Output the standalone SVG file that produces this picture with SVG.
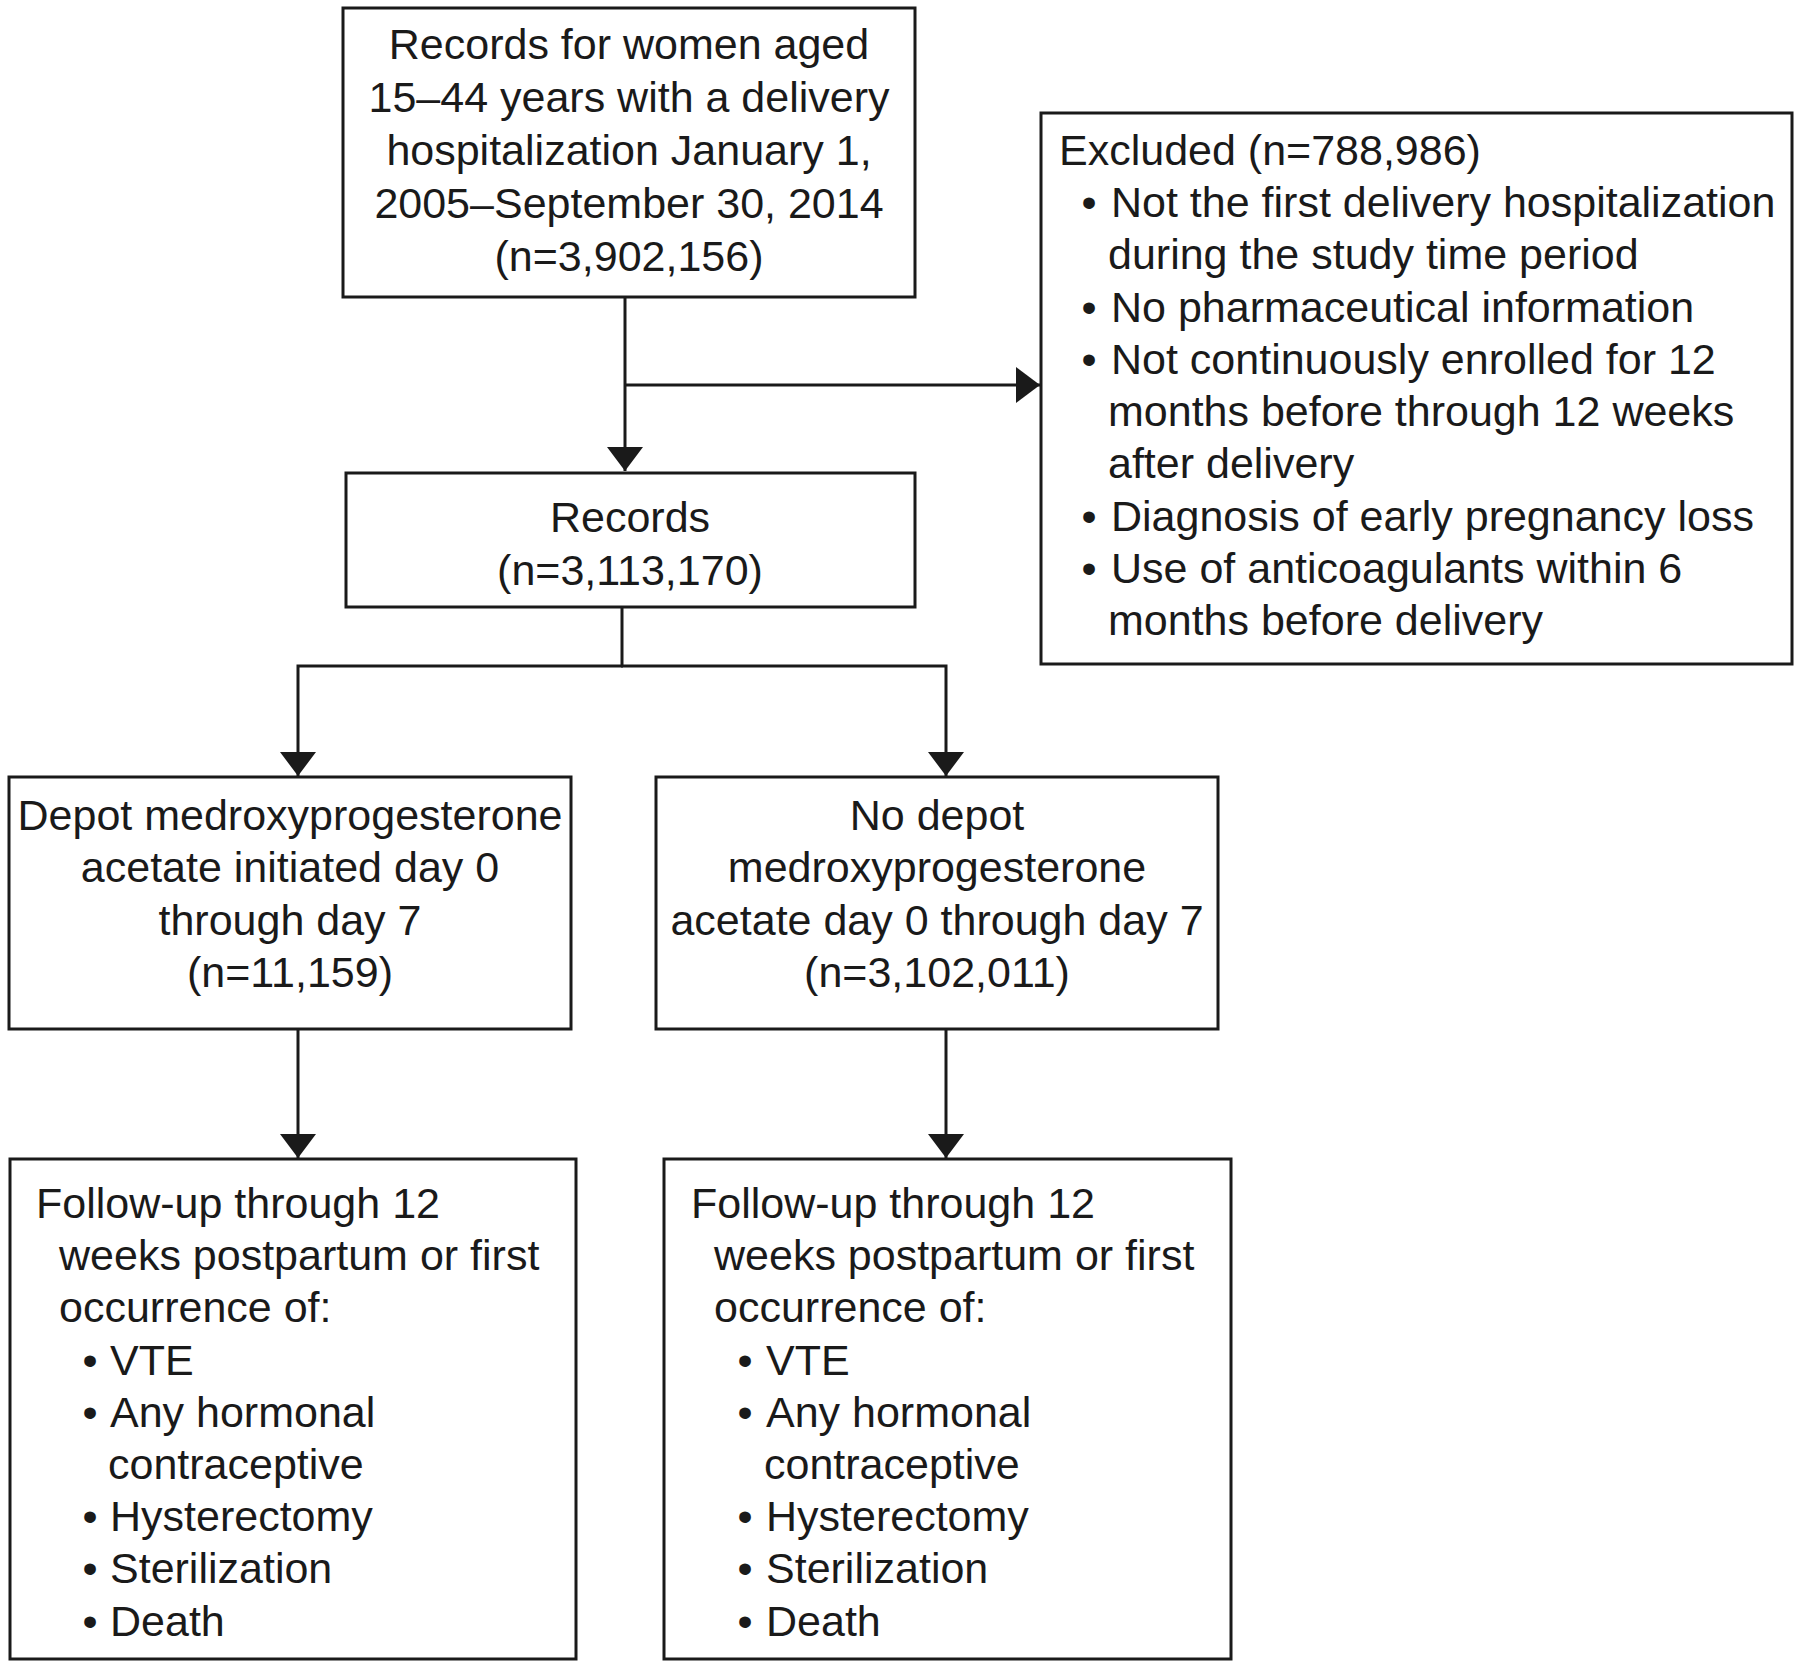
<svg xmlns="http://www.w3.org/2000/svg" width="1800" height="1670" viewBox="0 0 1800 1670">
<style>
.box{fill:#fff;stroke:#1a1a1a;stroke-width:3}
.t{font-family:"Liberation Sans",Arial,sans-serif;font-size:43px;fill:#1a1a1a}
.c{text-anchor:middle}
.b{text-anchor:middle}
.ln{fill:none;stroke:#1a1a1a;stroke-width:3}
</style>
<defs>
<marker id="ah" viewBox="0 0 24 36" refX="24" refY="18" markerWidth="24" markerHeight="36" markerUnits="userSpaceOnUse" orient="auto">
<path d="M0,0 L24,18 L0,36 Z" fill="#1a1a1a"/>
</marker>
</defs>
<rect width="1800" height="1670" fill="#fff"/>
<g id="connectors">
<path class="ln" d="M625,297 V471" marker-end="url(#ah)"/>
<path class="ln" d="M625,385 H1040" marker-end="url(#ah)"/>
<path class="ln" d="M622,607 V666"/>
<path class="ln" d="M623,666 H298 V776" marker-end="url(#ah)"/>
<path class="ln" d="M621,666 H946 V776" marker-end="url(#ah)"/>
<path class="ln" d="M298,1029 V1158" marker-end="url(#ah)"/>
<path class="ln" d="M946,1029 V1158" marker-end="url(#ah)"/>
</g>
<g id="n-records-all">
<rect class="box" x="343" y="8" width="572" height="289"/>
<text class="t c" x="629" y="59">Records for women aged</text>
<text class="t c" x="629" y="112">15–44 years with a delivery</text>
<text class="t c" x="629" y="165">hospitalization January 1,</text>
<text class="t c" x="629" y="218">2005–September 30, 2014</text>
<text class="t c" x="629" y="271">(n=3,902,156)</text>
</g>
<g id="n-excluded">
<rect class="box" x="1041" y="113" width="751" height="551"/>
<text class="t" x="1059" y="165">Excluded (n=788,986)</text>
<text class="t b" x="1089" y="217">•</text>
<text class="t" x="1111" y="217">Not the first delivery hospitalization</text>
<text class="t" x="1108" y="269">during the study time period</text>
<text class="t b" x="1089" y="322">•</text>
<text class="t" x="1111" y="322">No pharmaceutical information</text>
<text class="t b" x="1089" y="374">•</text>
<text class="t" x="1111" y="374">Not continuously enrolled for 12</text>
<text class="t" x="1108" y="426">months before through 12 weeks</text>
<text class="t" x="1108" y="478">after delivery</text>
<text class="t b" x="1089" y="531">•</text>
<text class="t" x="1111" y="531">Diagnosis of early pregnancy loss</text>
<text class="t b" x="1089" y="583">•</text>
<text class="t" x="1111" y="583">Use of anticoagulants within 6</text>
<text class="t" x="1108" y="635">months before delivery</text>
</g>
<g id="n-records">
<rect class="box" x="346" y="473" width="569" height="134"/>
<text class="t c" x="630" y="532">Records</text>
<text class="t c" x="630" y="585">(n=3,113,170)</text>
</g>
<g id="n-dmpa">
<rect class="box" x="9" y="777" width="562" height="252"/>
<text class="t c" x="290" y="830">Depot medroxyprogesterone</text>
<text class="t c" x="290" y="882">acetate initiated day 0</text>
<text class="t c" x="290" y="935">through day 7</text>
<text class="t c" x="290" y="987">(n=11,159)</text>
</g>
<g id="n-nodmpa">
<rect class="box" x="656" y="777" width="562" height="252"/>
<text class="t c" x="937" y="830">No depot</text>
<text class="t c" x="937" y="882">medroxyprogesterone</text>
<text class="t c" x="937" y="935">acetate day 0 through day 7</text>
<text class="t c" x="937" y="987">(n=3,102,011)</text>
</g>
<g id="n-follow-left">
<rect class="box" x="10" y="1159" width="566" height="500"/>
<text class="t" x="36" y="1218">Follow-up through 12</text>
<text class="t" x="59" y="1270">weeks postpartum or first</text>
<text class="t" x="59" y="1322">occurrence of:</text>
<text class="t b" x="90" y="1375">•</text>
<text class="t" x="110" y="1375">VTE</text>
<text class="t b" x="90" y="1427">•</text>
<text class="t" x="110" y="1427">Any hormonal</text>
<text class="t" x="108" y="1479">contraceptive</text>
<text class="t b" x="90" y="1531">•</text>
<text class="t" x="110" y="1531">Hysterectomy</text>
<text class="t b" x="90" y="1583">•</text>
<text class="t" x="110" y="1583">Sterilization</text>
<text class="t b" x="90" y="1636">•</text>
<text class="t" x="110" y="1636">Death</text>
</g>
<g id="n-follow-right">
<rect class="box" x="664" y="1159" width="567" height="500"/>
<text class="t" x="691" y="1218">Follow-up through 12</text>
<text class="t" x="714" y="1270">weeks postpartum or first</text>
<text class="t" x="714" y="1322">occurrence of:</text>
<text class="t b" x="745" y="1375">•</text>
<text class="t" x="766" y="1375">VTE</text>
<text class="t b" x="745" y="1427">•</text>
<text class="t" x="766" y="1427">Any hormonal</text>
<text class="t" x="764" y="1479">contraceptive</text>
<text class="t b" x="745" y="1531">•</text>
<text class="t" x="766" y="1531">Hysterectomy</text>
<text class="t b" x="745" y="1583">•</text>
<text class="t" x="766" y="1583">Sterilization</text>
<text class="t b" x="745" y="1636">•</text>
<text class="t" x="766" y="1636">Death</text>
</g>
</svg>
